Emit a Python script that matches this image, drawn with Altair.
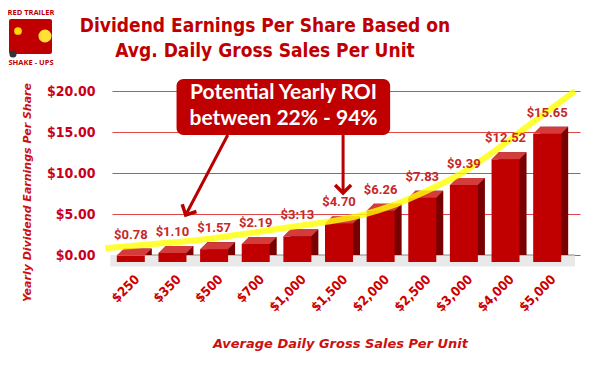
import altair as alt
import pandas as pd

# ---------------- data ----------------
categories = ["$250", "$350", "$500", "$700", "$1,000", "$1,500",
              "$2,000", "$2,500", "$3,000", "$4,000", "$5,000"]
values = [0.78, 1.10, 1.57, 2.19, 3.13, 4.70, 6.26, 7.83, 9.39, 12.52, 15.65]
value_labels = ["$0.78", "$1.10", "$1.57", "$2.19", "$3:13", "$4.70",
                "$6.26", "$7.83", "$9.39", "$12.52", "$15.65"]
y_ticks = [0, 5, 10, 15, 20]

# yellow trend curve (x in category-index units, y in $)
trend_pos = [-0.78, 0.39, 1.57, 2.74, 3.92, 4.62, 5.40, 6.20, 6.97, 7.75, 8.55, 9.33, 10.10, 10.50]
trend_val = [0.82, 1.34, 1.9, 2.7, 3.6, 4.1, 4.9, 6.2, 7.9, 9.9, 12.6, 15.6, 18.5, 20.0]

# annotation
ann_lines = ["Potential Yearly ROI", "between 22% - 94%"]
ann_line_val = [19.76, 16.59]
ann_center = 3.50
box_pos = [0.93, 6.06]
box_val = [21.46, 14.63]
arrow_start_pos = [2.16, 4.93]
arrow_start_val = [14.63, 14.63]
arrow_tip_pos = [1.15, 4.93]
arrow_tip_val = [4.88, 7.56]
arrow_angle = [27, 0]

# floor under the bars
floor_pos = [-0.66, 10.5]
floor_val = [0, -1.4]

title_lines = ["Dividend Earnings Per Share Based on", "Avg. Daily Gross Sales Per Unit"]

RED = "#c00000"
COND = "DejaVu Sans Condensed, DejaVu Sans"

bars = pd.DataFrame({"pos": list(range(len(categories))), "val": values, "label": value_labels})
trend = pd.DataFrame({"pos": trend_pos, "val": trend_val})
box = pd.DataFrame({"pos": [box_pos[0]], "pos2": [box_pos[1]], "val": [box_val[0]], "val2": [box_val[1]]})
ann = pd.DataFrame({"txt": ann_lines, "val": ann_line_val, "pos": [ann_center] * 2})
arrows = pd.DataFrame({"pos": arrow_start_pos, "val": arrow_start_val,
                       "pos2": arrow_tip_pos, "val2": arrow_tip_val})
tips = pd.DataFrame({"pos": arrow_tip_pos, "val": arrow_tip_val, "ang": arrow_angle})
floor = pd.DataFrame({"pos": [floor_pos[0]], "pos2": [floor_pos[1]], "val": [floor_val[0]], "val2": [floor_val[1]]})
zero = pd.DataFrame({"pos": [-0.5], "pos2": [10.5], "val": [0.0]})
one = pd.DataFrame({"a": [0]})

label_expr = "[" + ",".join("'" + c + "'" for c in categories) + "][datum.value]"

X = alt.X("pos:Q", scale=alt.Scale(domain=[-0.5, len(categories) - 0.5], nice=False, zero=False),
          axis=alt.Axis(values=list(range(len(categories))), labelExpr=label_expr,
                        title="Average Daily Gross Sales Per Unit",
                        labelAngle=-45, labelAlign="right", labelBaseline="middle",
                        labelPadding=22, labelOffset=-1, labelFlush=False, labelOverlap=False,
                        labelFont=COND, labelFontWeight="bold", labelFontSize=13,
                        labelColor="#cc0000", ticks=False, domain=False, grid=False,
                        titleFont="DejaVu Sans", titleFontStyle="italic",
                        titleFontWeight="bold", titleFontSize=13, titleColor="#cc1010",
                        titleX=228, titleY=88, titleBaseline="middle"))
Y = alt.Y("val:Q", scale=alt.Scale(domain=[0, 20], nice=False),
          axis=alt.Axis(values=y_ticks, format="$.2f", title="Yearly Dividend Earnings Per Share",
                        labelFont=COND, labelFontWeight="bold", labelFontSize=14,
                        labelColor="#c8001a", labelPadding=17, ticks=False, domain=False,
                        grid=True, gridColor="#e04848", gridWidth=1,
                        titleFont="DejaVu Sans", titleFontStyle="italic",
                        titleFontWeight="bold", titleFontSize=11, titleColor="#cc1010",
                        titleX=-85, titleY=101, titleAngle=-90, titleBaseline="middle",
                        titleAlign="center"))

# floor
floor_rect = alt.Chart(floor).mark_rect(color="#e9e9e9").encode(x=X, x2="pos2:Q", y=Y, y2="val2:Q")
zero_rule = alt.Chart(zero).mark_rule(color="#8c8c8c", strokeWidth=1.2).encode(x=X, x2="pos2:Q", y=Y)

# 3D bars
base = alt.Chart(bars)
back = base.mark_bar(size=28, color="#780000").encode(x=X, y=Y)
front = base.mark_bar(size=28, color=RED, xOffset=-7, yOffset=7, y2Offset=7).encode(x=X, y=Y)
top_face = base.mark_point(shape="M -1 0 L 1 0 L 1.5 -0.5 L -0.5 -0.5 Z", size=784,
                           filled=True, opacity=1, color="#d43c3c",
                           xOffset=-7, yOffset=7).encode(x=X, y=Y)

# trend curve
curve = alt.Chart(trend).mark_line(color="#ffff00", strokeWidth=6, opacity=0.8,
                                   interpolate="monotone").encode(x=X, y=Y)

# value labels
labels = base.mark_text(font="Roboto", fontWeight="bold", fontSize=13, color="#c62828",
                        dx=-7, dy=-14, baseline="middle").encode(x=X, y=Y, text="label:N")

# annotation
box_rect = alt.Chart(box).mark_rect(color=RED, cornerRadius=7).encode(x=X, x2="pos2:Q", y=Y, y2="val2:Q")
box_text = alt.Chart(ann).mark_text(font="Lato", fontWeight="bold", fontSize=21,
                                    color="white", baseline="middle").encode(x=X, y=Y, text="txt:N")
arrow_lines = alt.Chart(arrows).mark_rule(color="#b80000", strokeWidth=3).encode(
    x=X, y=Y, x2="pos2:Q", y2="val2:Q")
arrow_heads = alt.Chart(tips).mark_point(shape="M -1 -1 L 0 0 L 1 -1", size=256,
                                         filled=False, strokeWidth=3.5, color="#b80000",
                                         opacity=1).encode(
    x=X, y=Y, angle=alt.Angle("ang:Q", scale=None))

# title (two centred lines)
title1 = alt.Chart(one).mark_text(text=title_lines[0], font=COND, fontWeight="bold", fontSize=19,
                                  color=RED, baseline="middle").encode(
    x=alt.value(153), y=alt.value(-65))
title2 = alt.Chart(one).mark_text(text=title_lines[1], font=COND, fontWeight="bold", fontSize=19,
                                  color=RED, baseline="middle").encode(
    x=alt.value(153), y=alt.value(-40))

# logo (decorative)
logo_top = alt.Chart(one).mark_text(text="RED TRAILER", font="Open Sans", fontWeight="bold",
                                    fontSize=7.5, color=RED).encode(x=alt.value(-81), y=alt.value(-78))
logo_bot = alt.Chart(one).mark_text(text="SHAKE - UPS", font="Open Sans", fontWeight="bold",
                                    fontSize=7.5, color=RED).encode(x=alt.value(-81), y=alt.value(-28))
logo_body = alt.Chart(one).mark_rect(color=RED, cornerRadius=2).encode(
    x=alt.value(-103), x2=alt.value(-60), y=alt.value(-72), y2=alt.value(-37))
logo_lemon = alt.Chart(one).mark_point(shape="circle", filled=True, opacity=1, color="#ffe033",
                                       size=170).encode(x=alt.value(-67), y=alt.value(-55))
logo_lemon2 = alt.Chart(one).mark_point(shape="circle", filled=True, opacity=1, color="#ffd700",
                                        size=60).encode(x=alt.value(-94), y=alt.value(-60))
logo_wheel = alt.Chart(one).mark_point(shape="circle", filled=True, opacity=1, color="#333333",
                                       size=50).encode(x=alt.value(-99), y=alt.value(-37))

chart = alt.layer(
    floor_rect, zero_rule, back, front, top_face, curve, labels,
    box_rect, box_text, arrow_lines, arrow_heads,
    title1, title2,
    logo_top, logo_bot, logo_body, logo_lemon, logo_lemon2, logo_wheel,
).properties(
    width=468, height=164,
    autosize=alt.AutoSizeParams(type="none"),
    padding={"left": 104, "top": 83, "right": 4, "bottom": 100},
).configure_view(stroke=None)

chart.save("out.html", embed_options={"renderer": "svg", "actions": False})
